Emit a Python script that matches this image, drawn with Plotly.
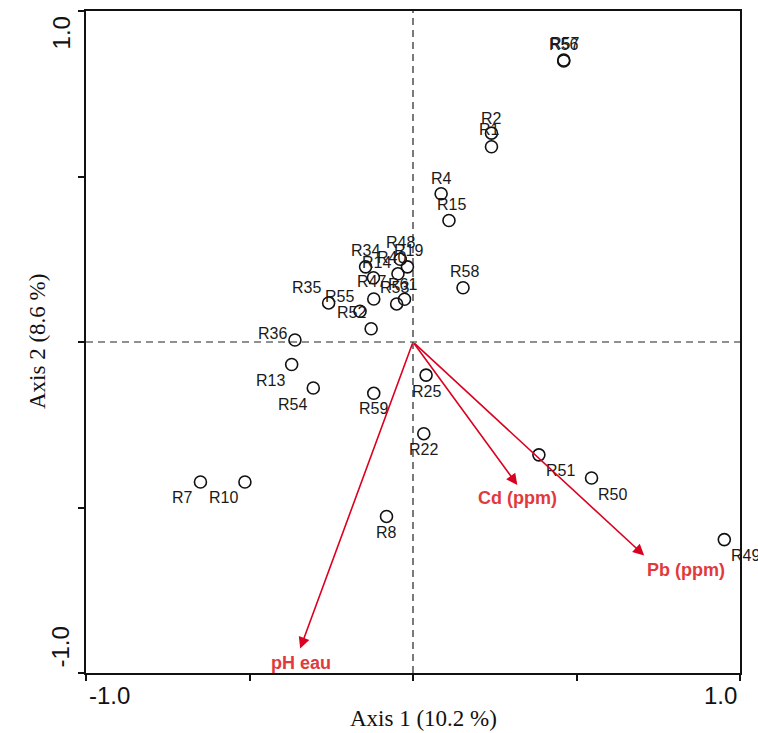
import plotly.graph_objects as go

# Sample scores on the first two ordination axes
samples = ["R56", "R57", "R2", "R1", "R4", "R15", "R58", "R48", "R19", "R40",
           "R34", "R14", "R47", "R53", "R61", "R35", "R55", "R52", "R36", "R13",
           "R54", "R7", "R10", "R59", "R25", "R22", "R8", "R51", "R50", "R49"]
axis1 = [0.461, 0.461, 0.240, 0.240, 0.086, 0.110, 0.153, -0.039, -0.017, -0.046,
         -0.145, -0.121, -0.120, -0.050, -0.026, -0.258, -0.162, -0.128, -0.361, -0.371,
         -0.305, -0.650, -0.514, -0.120, 0.040, 0.033, -0.081, 0.385, 0.546, 0.952]
axis2 = [0.849, 0.852, 0.631, 0.590, 0.448, 0.367, 0.164, 0.250, 0.227, 0.206,
         0.227, 0.194, 0.130, 0.115, 0.129, 0.118, 0.093, 0.040, 0.006, -0.068,
         -0.139, -0.423, -0.423, -0.155, -0.100, -0.277, -0.527, -0.341, -0.411, -0.597]

# Variable loadings (arrows)
variables = ["pH eau", "Cd (ppm)", "Pb (ppm)"]
load1 = [-0.345, 0.319, 0.707]
load2 = [-0.926, -0.432, -0.645]

axis_titles = ["Axis 1 (10.2 %)", "Axis 2 (8.6 %)"]
tick_labels = ["-1.0", "1.0"]

# Label offsets in pixels (dx, dy), dy positive = up
label_shift = {
    "R56": (0, 16), "R57": (1, 16), "R2": (0, 15), "R1": (-2, 17), "R4": (0, 15),
    "R15": (3, 16), "R58": (1, 16), "R48": (0, 17), "R19": (1, 16), "R40": (-6, 16),
    "R34": (0, 16), "R14": (3, 15), "R47": (-2, 17), "R53": (-2, 16), "R61": (-2, 15),
    "R35": (-22, 15), "R55": (-21, 15), "R52": (-20, 16), "R36": (-22, 7),
    "R13": (-21, -16), "R54": (-21, -16), "R7": (-18, -15), "R10": (-21, -15),
    "R59": (0, -15), "R25": (0, -16), "R22": (0, -16), "R8": (0, -16),
    "R51": (22, -16), "R50": (21, -16), "R49": (21, -16),
}
var_shift = {"pH eau": (1, -14), "Cd (ppm)": (0, -13), "Pb (ppm)": (42, -14)}

W, H = 758, 733
L, R, T, B = 86, 18, 9, 60
PW, PH = W - L - R, H - T - B


def px(x):
    return (x - L) / PW


def py(y):
    return (H - B - y) / PH


ARROW = "#dc0020"
VARTXT = "#e23a3c"
SANS = "Liberation Sans, Arial, Helvetica, sans-serif"
SERIF = "Liberation Serif, Times New Roman, serif"

fig = go.Figure()

fig.add_trace(go.Scatter(
    x=axis1, y=axis2, mode="markers",
    marker=dict(size=12, color="rgba(0,0,0,0)",
                line=dict(color="#111111", width=1.6)),
    hoverinfo="text", text=samples, showlegend=False,
))

annotations = []
for name, xv, yv in zip(samples, axis1, axis2):
    dx, dy = label_shift.get(name, (0, 15))
    annotations.append(dict(
        x=xv, y=yv, xref="x", yref="y", text=name, showarrow=False,
        xshift=dx, yshift=dy, xanchor="center", yanchor="middle",
        font=dict(family=SANS, size=16, color="#1a1a1a"),
    ))

for name, xv, yv in zip(variables, load1, load2):
    annotations.append(dict(
        x=xv, y=yv, xref="x", yref="y", ax=0, ay=0, axref="x", ayref="y",
        text="", showarrow=True, arrowhead=2, arrowsize=1.4, arrowwidth=1.6,
        arrowcolor=ARROW, standoff=0, startstandoff=0,
    ))
    dx, dy = var_shift[name]
    annotations.append(dict(
        x=xv, y=yv, xref="x", yref="y", text="<b>%s</b>" % name, showarrow=False,
        xshift=dx, yshift=dy, xanchor="center", yanchor="middle",
        font=dict(family=SANS, size=18, color=VARTXT),
    ))

# Tick labels placed at the ends of each axis
annotations += [
    dict(x=px(87), y=py(696), xref="paper", yref="paper", text=tick_labels[0],
         showarrow=False, xanchor="left", yanchor="middle",
         font=dict(family=SANS, size=24, color="#111")),
    dict(x=px(739), y=py(696), xref="paper", yref="paper", text=tick_labels[1],
         showarrow=False, xanchor="right", yanchor="middle",
         font=dict(family=SANS, size=24, color="#111")),
    dict(x=px(61), y=py(31.5), xref="paper", yref="paper", text=tick_labels[1],
         showarrow=False, textangle=-90, xanchor="center", yanchor="middle",
         font=dict(family=SANS, size=24, color="#111")),
    dict(x=px(61), y=py(647.5), xref="paper", yref="paper", text=tick_labels[0],
         showarrow=False, textangle=-90, xanchor="center", yanchor="middle",
         font=dict(family=SANS, size=24, color="#111")),
    dict(x=px(423), y=py(719), xref="paper", yref="paper", text=axis_titles[0],
         showarrow=False, xanchor="center", yanchor="middle",
         font=dict(family=SERIF, size=23, color="#111")),
    dict(x=px(37), y=py(341), xref="paper", yref="paper", text=axis_titles[1],
         showarrow=False, textangle=-90, xanchor="center", yanchor="middle",
         font=dict(family=SERIF, size=23, color="#111")),
]

dash = dict(color="#222222", width=1.2, dash="7px,5px")
shapes = [
    dict(type="line", xref="x", yref="y", x0=0, x1=0, y0=-1, y1=1, line=dash, layer="below"),
    dict(type="line", xref="x", yref="y", x0=-1, x1=1, y0=0, y1=0, line=dash, layer="below"),
]

axis_common = dict(
    range=[-1, 1], showgrid=False, zeroline=False, showline=True, mirror=True,
    linecolor="#111111", linewidth=2, ticks="outside", ticklen=6, tickwidth=1.5,
    tickcolor="#111111", tickvals=[-1, -0.5, 0, 0.5, 1], showticklabels=False,
    fixedrange=True,
)

fig.update_layout(
    width=W, height=H,
    margin=dict(l=L, r=R, t=T, b=B),
    paper_bgcolor="white", plot_bgcolor="white",
    xaxis=axis_common, yaxis=axis_common,
    annotations=annotations, shapes=shapes,
)

fig.write_html("out.html")
